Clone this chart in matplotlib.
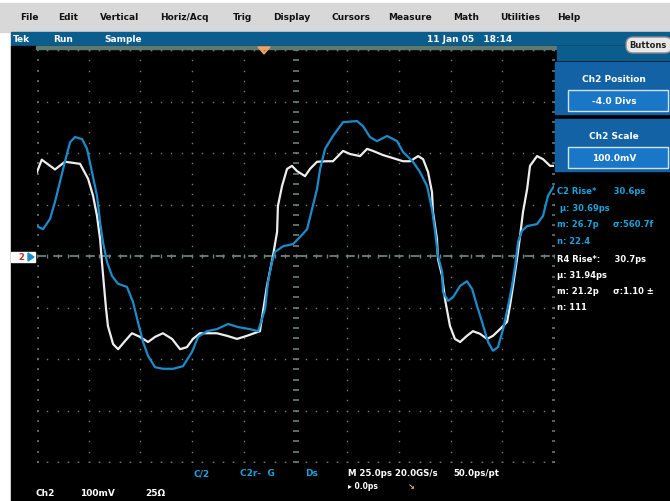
import matplotlib
matplotlib.use('Agg')
import matplotlib.pyplot as plt
from matplotlib.patches import Rectangle, FancyBboxPatch, Polygon

# ---- waveform data (time in ps, amplitude in mV, 25 ps/div, 100 mV/div)
white_t = [0, 2.3, 8.7, 13.5, 20.8, 24.7, 27.1, 29.0, 30.5, 31.4, 32.4, 33.4, 34.3, 36.8,
           39.2, 42.6, 45.9, 49.8, 53.7, 57.1, 60.9, 65.3, 69.2, 72.5, 75.4, 78.8, 87.0,
           91.9, 96.7, 101.5, 107.8, 111.2, 114.1, 116.1, 116.5, 118.5, 120.9, 123.3,
           125.7, 129.6, 132.0, 135.4, 140.2, 143.1, 148.0, 151.4, 156.2, 159.6, 162.5,
           167.3, 172.2, 177.0, 180.4, 184.3, 186.7, 189.1, 191.0, 191.5, 193.4, 193.9,
           195.9, 197.3, 199.7, 202.1, 204.6, 207.9, 210.8, 214.2, 217.6, 220.5, 223.9,
           227.3, 228.7, 230.2, 232.1, 233.6, 235.0, 237.0, 238.4, 241.8, 244.7, 248.1, 250]
white_v = [163, 187, 168, 183, 179, 150, 117, 78, 33, -12, -58, -103, -136, -171,
           -181, -165, -150, -157, -167, -157, -150, -161, -181, -177, -161, -150, -150,
           -155, -161, -155, -146, -58, 0, 47, 97, 136, 169, 175,
           165, 155, 169, 183, 184, 184, 204, 198, 194, 208, 204,
           196, 190, 184, 184, 194, 188, 163, 124, 85, 33, -6,
           -39, -84, -136, -161, -167, -155, -146, -151, -161, -155, -142,
           -128, -97, -58, -6, 39, 85, 130, 175, 194, 188, 175, 175]

blue_t = [0, 2.9, 6.3, 8.7, 11.1, 13.5, 16.0, 18.4, 21.8, 24.2, 26.6, 29.0, 30.5, 31.9,
          33.9, 36.3, 39.2, 43.5, 46.4, 48.8, 51.3, 53.7, 57.1, 60.9, 65.8, 70.6, 75.0,
          77.9, 82.2, 87.0, 92.4, 97.2, 103.0, 106.9, 110.3, 111.7, 113.6, 115.1, 119.0,
          123.8, 127.2, 130.6, 133.0, 135.4, 136.9, 139.3, 143.1, 148.0, 154.8, 157.7,
          161.0, 164.4, 169.3, 174.1, 177.0, 181.8, 185.2, 188.6, 191.0, 192.5, 193.9,
          195.9, 196.3, 198.8, 201.2, 204.6, 207.9, 210.4, 212.8, 215.2, 218.1, 220.5,
          222.9, 225.4, 227.8, 229.7, 231.2, 232.6, 234.5, 237.0, 241.8, 244.7, 247.1, 250]
blue_v = [58, 52, 72, 105, 144, 183, 221, 231, 227, 208, 163, 117, 66, 27,
          -12, -39, -54, -60, -89, -128, -167, -194, -216, -219, -219, -214, -186,
          -157, -146, -142, -132, -138, -142, -146, -103, -50, -12, 8, 19,
          23, 37, 52, 91, 130, 169, 208, 233, 260, 262, 252,
          231, 223, 233, 223, 202, 183, 163, 136, 91, 47, 0,
          -31, -70, -87, -80, -58, -49, -64, -97, -128, -167, -184,
          -177, -142, -97, -58, -19, 27, 49, 58, 62, 78, 117, 136]

menu_items = ['File', 'Edit', 'Vertical', 'Horiz/Acq', 'Trig', 'Display', 'Cursors',
              'Measure', 'Math', 'Utilities', 'Help']
menu_x = [20, 58, 100, 160, 233, 273, 331, 388, 453, 500, 557]

meas_cyan = ['C2 Rise*      30.6ps', ' \u03bc: 30.69ps', 'm: 26.7p     \u03c3:560.7f', 'n: 22.4']
meas_white = ['R4 Rise*:     30.7ps', '\u03bc: 31.94ps', 'm: 21.2p     \u03c3:1.10 \u00b1', 'n: 111']

GRID = '#6a8278'
BLUE = '#1a8ccb'
CYAN = '#1ba3dc'

fig = plt.figure(figsize=(6.7, 5.02), dpi=100)

# ---- screen furniture, drawn in pixel coordinates
bg = fig.add_axes([0, 0, 1, 1])
bg.set_xlim(0, 670)
bg.set_ylim(502, 0)
bg.axis('off')
bg.add_patch(Rectangle((0, 0), 670, 502, color='white'))
bg.add_patch(Rectangle((0, 4), 670, 29, color='#d8d8d8'))
bg.add_patch(Rectangle((11, 33), 659, 14, color='#0b5d8e'))
bg.add_patch(Rectangle((11, 47), 659, 455, color='black'))
bg.add_patch(Rectangle((36, 47), 520, 3, color='#5f7a72'))
bg.add_patch(Rectangle((557, 47), 113, 14, color='#0b5d8e'))

for name, x in zip(menu_items, menu_x):
    bg.text(x, 17, name, fontsize=6.5, fontweight='bold', color='#111111', va='center')

bg.text(13, 40, 'Tek', fontsize=6.5, fontweight='bold', color='white', va='center')
bg.text(53, 40, 'Run', fontsize=6.5, fontweight='bold', color='white', va='center')
bg.text(104, 40, 'Sample', fontsize=6.5, fontweight='bold', color='white', va='center')
bg.text(427, 40, '11 Jan 05   18:14', fontsize=6.5, fontweight='bold', color='white', va='center')
bg.add_patch(FancyBboxPatch((626, 38), 46, 16, boxstyle='round,pad=0,rounding_size=7',
                            fc='#e8e8e8', ec='#8a8a8a', lw=1))
bg.text(648, 46, 'Buttons', fontsize=6, fontweight='bold', color='#222222', ha='center', va='center')

# right side control panel
for y0, title, value in [(63, 'Ch2 Position', '-4.0 Divs'), (120, 'Ch2 Scale', '100.0mV')]:
    bg.add_patch(Rectangle((555, y0), 115, 52, color='#1462a6'))
    bg.text(614, y0 + 17, title, fontsize=6.5, fontweight='bold', color='white', ha='center', va='center')
    bg.add_patch(Rectangle((568, y0 + 28), 100, 21, fc='#1a76c6', ec='#cfe3f3', lw=1))
    bg.text(614, y0 + 39, value, fontsize=6.5, fontweight='bold', color='white', ha='center', va='center')

# trigger marker and channel marker
bg.add_patch(Polygon([[258, 48], [270, 48], [264, 55]], color='#f0a060'))
bg.add_patch(Rectangle((11, 253), 24, 10, color='white'))
bg.text(21, 258, '2', fontsize=6, fontweight='bold', color='#c03020', ha='center', va='center')
bg.add_patch(Polygon([[28, 254], [34, 258], [28, 262]], color=BLUE))

# measurement readouts
for i, s in enumerate(meas_cyan):
    bg.text(557, 192 + 16.5 * i, s, fontsize=6, fontweight='bold', color=CYAN, va='center')
for i, s in enumerate(meas_white):
    bg.text(557, 260 + 16 * i, s, fontsize=6, fontweight='bold', color='white', va='center')

# bottom status text
bg.text(193, 474, 'C/2', fontsize=6.5, fontweight='bold', color=CYAN, va='center')
bg.text(240, 474, 'C2r-  G', fontsize=6.5, fontweight='bold', color=CYAN, va='center')
bg.text(305, 474, 'Ds', fontsize=6.5, fontweight='bold', color=CYAN, va='center')
bg.text(348, 474, 'M 25.0ps 20.0GS/s', fontsize=6.2, fontweight='bold', color='white', va='center')
bg.text(453, 474, '50.0ps/pt', fontsize=6.2, fontweight='bold', color='white', va='center')
bg.text(348, 487, '\u25b8 0.0ps', fontsize=5.5, fontweight='bold', color='white', va='center')
bg.text(408, 487, '\u2198', fontsize=6, fontweight='bold', color='#e8c840', va='center')
bg.text(36, 494, 'Ch2', fontsize=6.5, fontweight='bold', color='white', va='center')
bg.text(80, 494, '100mV', fontsize=6.5, fontweight='bold', color='white', va='center')
bg.text(145, 494, '25\u03a9', fontsize=6.5, fontweight='bold', color='white', va='center')

# ---- graticule + waveforms
ax = fig.add_axes([37 / 670, (502 - 463) / 502, 517 / 670, 412 / 502])
ax.set_facecolor('none')
ax.set_xlim(0, 250)
ax.set_ylim(-400, 400)
ax.axis('off')

minor_v = [v for v in range(-400, 401, 20)]
minor_t = [t * 5 for t in range(0, 51)]
for t in range(25, 250, 25):
    if t == 125:
        continue
    ax.plot([t] * len(minor_v), minor_v, ls='none', marker='s', ms=1.0, mew=0, color=GRID)
for v in range(-300, 301, 100):
    if v == 0:
        continue
    ax.plot(minor_t, [v] * len(minor_t), ls='none', marker='s', ms=1.0, mew=0, color=GRID)
for t in (0, 250):
    ax.plot([t] * len(minor_v), minor_v, ls='none', marker='_', ms=3.5, mew=1.1, color=GRID)
for v in (-400, 400):
    ax.plot(minor_t, [v] * len(minor_t), ls='none', marker='s', ms=1.2, mew=0, color=GRID)
ax.plot([125] * len(minor_v), minor_v, ls='none', marker='_', ms=4.5, mew=1.2, color=GRID)
ax.plot([0, 250], [0, 0], color=GRID, lw=1.3, dashes=(5, 4))
ax.plot(minor_t, [0] * len(minor_t), ls='none', marker='|', ms=3, mew=1, color=GRID)

ax.plot(white_t, white_v, color='#eeeeee', lw=1.6, solid_joinstyle='round')
ax.plot(blue_t, blue_v, color=BLUE, lw=1.6, solid_joinstyle='round')

fig.savefig('out.png', dpi=100)
